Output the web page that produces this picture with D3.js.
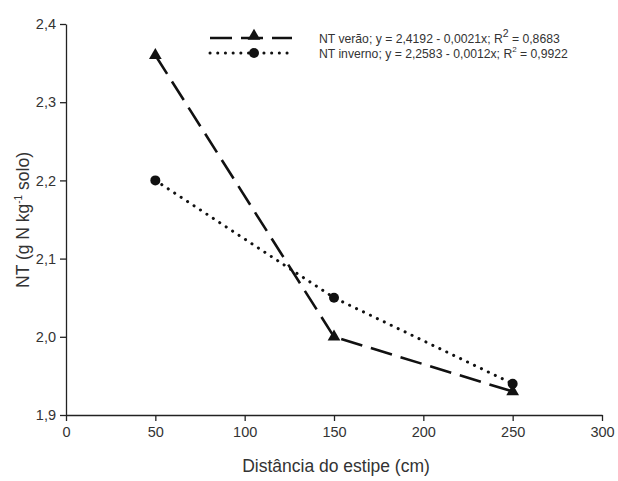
<!DOCTYPE html>
<html><head><meta charset="utf-8">
<script src="https://cdn.jsdelivr.net/npm/d3@7"></script>
<style>body{margin:0;background:#fff}</style>
</head><body>
<svg id="c" width="618" height="481"></svg>
<script>
const distances = [50, 150, 250];
const ntVerao = [2.36, 2.00, 1.93];
const ntInverno = [2.20, 2.05, 1.94];
const xTicks = [0, 50, 100, 150, 200, 250, 300];
const yTicks = [1.9, 2.0, 2.1, 2.2, 2.3, 2.4];
const legendLabels = ["NT verão; y = 2,4192 - 0,0021x; R", "NT inverno; y = 2,2583 - 0,0012x; R"];
const legendTail = [" = 0,8683", " = 0,9922"];

const svg = d3.select("#c");
const font = "Liberation Sans, Arial, sans-serif";
const x = d3.scaleLinear().domain([0, 300]).range([66, 602]);
const y = d3.scaleLinear().domain([1.9, 2.4]).range([415, 24]);
const fmt = d => d3.format(".1f")(d).replace(".", ",");

const xa = svg.append("g").attr("transform", "translate(0,415)")
  .call(d3.axisBottom(x).tickValues(xTicks).tickSize(6).tickPadding(6).tickSizeOuter(0));
const ya = svg.append("g").attr("transform", "translate(66,0)")
  .call(d3.axisLeft(y).tickValues(yTicks).tickFormat(fmt).tickSize(6).tickPadding(4).tickSizeOuter(0));
[xa, ya].forEach(a => {
  a.selectAll("path,line").attr("stroke", "#222").attr("stroke-width", 1.3);
  a.selectAll("text").attr("font-family", font).attr("font-size", 14.5).attr("fill", "#333");
});

svg.append("text").attr("x", 336).attr("y", 472).attr("text-anchor", "middle")
  .attr("font-family", font).attr("font-size", 17.5).attr("fill", "#333")
  .text("Distância do estipe (cm)");
const yt = svg.append("text").attr("transform", "translate(29,220) rotate(-90)")
  .attr("text-anchor", "middle").attr("font-family", font).attr("font-size", 17.5).attr("fill", "#333");
yt.append("tspan").text("NT (g N kg");
yt.append("tspan").attr("dy", -7).attr("font-size", 10).text("-1");
yt.append("tspan").attr("dy", 7).text(" solo)");

const line = d3.line().x((d, i) => x(distances[i])).y(d => y(d));
svg.append("path").datum(ntVerao).attr("d", line).attr("fill", "none")
  .attr("stroke", "#111").attr("stroke-width", 2.6).attr("stroke-dasharray", "22,9");
svg.append("path").datum(ntInverno).attr("d", line).attr("fill", "none")
  .attr("stroke", "#111").attr("stroke-width", 3).attr("stroke-linecap", "round").attr("stroke-dasharray", "0.1,7.6");

const tri = d3.symbol().type(d3.symbolTriangle).size(70);
svg.selectAll(".tri").data(ntVerao).enter().append("path")
  .attr("transform", (d, i) => `translate(${x(distances[i])},${y(d)})`).attr("d", tri).attr("fill", "#111");
svg.selectAll(".dot").data(ntInverno).enter().append("circle")
  .attr("cx", (d, i) => x(distances[i])).attr("cy", d => y(d)).attr("r", 5).attr("fill", "#111");

// legend
const lg = [[38, "22,9", 2.6, "tri"], [53, "0.1,7.6", 3, "dot"]];
lg.forEach((l, i) => {
  svg.append("line").attr("x1", 210).attr("x2", 292).attr("y1", l[0]).attr("y2", l[0])
    .attr("stroke", "#111").attr("stroke-width", l[2]).attr("stroke-dasharray", l[1])
    .attr("stroke-linecap", i ? "round" : "butt");
  if (i === 0) svg.append("path").attr("transform", `translate(254,${l[0] - 2})`).attr("d", tri).attr("fill", "#111");
  else svg.append("circle").attr("cx", 254).attr("cy", l[0]).attr("r", 5).attr("fill", "#111");
  const t = svg.append("text").attr("x", 319).attr("y", l[0] + 5)
    .attr("font-family", font).attr("font-size", 12.2).attr("fill", "#333");
  t.append("tspan").text(legendLabels[i]);
  t.append("tspan").attr("dy", -6).attr("font-size", i ? 8 : 10.5).text("2");
  t.append("tspan").attr("dy", 6).text(legendTail[i]);
});
</script>
</body></html>
